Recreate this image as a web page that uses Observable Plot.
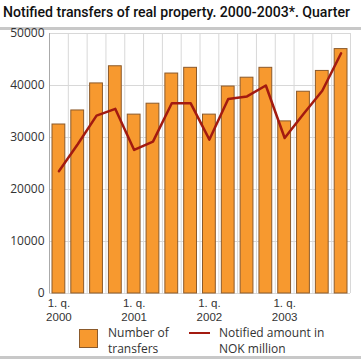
<!DOCTYPE html>
<html><head><meta charset="utf-8">
<script src="https://cdn.jsdelivr.net/npm/d3@7"></script>
<script src="https://cdn.jsdelivr.net/npm/@observablehq/plot@0.6"></script>
<style>
body{margin:0;background:#fff;font-family:"Open Sans",sans-serif;}
#wrap{position:relative;width:361px;height:359px;overflow:hidden;}
#title{position:absolute;left:3px;top:3px;font-family:Roboto,sans-serif;font-size:15px;font-weight:500;color:#111;white-space:nowrap;transform-origin:0 0;}
#topline{position:absolute;left:0;top:27px;width:361px;height:3px;background:#c8c8c8;}
#botline{position:absolute;left:0;top:356px;width:361px;height:3px;background:#c8c8c8;}
#chart{position:absolute;left:0;top:22px;}
.leg{position:absolute;font-size:12px;line-height:16px;color:#333;}
</style></head>
<body><div id="wrap">
<div id="topline"></div>
<div id="chart"></div>
<div id="title">Notified transfers of real property. 2000-2003*. Quarter</div>
<div style="position:absolute;left:79px;top:329px;width:17px;height:17px;background:#F7992F;border:1px solid #8B5A2B;"></div>
<div class="leg" style="left:108px;top:325px;">Number of<br>transfers</div>
<div style="position:absolute;left:189px;top:332px;width:21px;height:2px;background:#A31A10;"></div>
<div class="leg" style="left:219px;top:325px;">Notified amount in<br>NOK million</div>
<div id="botline"></div>
</div>
<script>
const quarters = ["2000K1","2000K2","2000K3","2000K4","2001K1","2001K2","2001K3","2001K4","2002K1","2002K2","2002K3","2002K4","2003K1","2003K2","2003K3","2003K4"];
const transfers = [32500,35200,40400,43700,34400,36500,42300,43400,34400,39800,41500,43400,33100,38800,42800,47000];
const amounts = [23500,28700,34200,35500,27600,29200,36600,36600,29600,37400,37900,40000,29900,34500,39000,46200];
const tickIndex = [0,4,8,12];
const tickQuarter = "1. q.";
const tickYears = ["2000","2001","2002","2003"];
const yTicks = [0,10000,20000,30000,40000,50000];

const rows = quarters.map((q,i)=>({q,i,transfers:transfers[i],amount:amounts[i]}));
const bounds = d3.range(quarters.length+1);
const ticks = tickIndex.map((i,k)=>({x:i+0.5,q:tickQuarter,year:tickYears[k]}));

const chart = Plot.plot({
  width:361, height:302,
  marginLeft:49, marginRight:11, marginTop:11, marginBottom:31,
  style:{fontFamily:"Open Sans, sans-serif", fontSize:"12px", color:"#333", background:"transparent", overflow:"visible"},
  x:{type:"linear", domain:[0,quarters.length], axis:null},
  y:{domain:[0,50000], ticks:yTicks, tickSize:0, tickPadding:5, label:null, tickFormat:d=>String(d)},
  marks:[
    Plot.ruleY(yTicks,{stroke:"#d8d8d8",strokeWidth:1}),
    Plot.ruleX(bounds,{stroke:"#d8d8d8",strokeWidth:1}),
    Plot.ruleX([0],{stroke:"#aaa"}),
    Plot.rectY(rows,{x1:d=>d.i,x2:d=>d.i+1,y:"transfers",insetLeft:3,insetRight:3,fill:"#F7992F",stroke:"#8B5A2B",strokeWidth:1}),
    Plot.line(rows,{x:d=>d.i+0.5,y:"amount",stroke:"#A31A10",strokeWidth:2.5}),
    Plot.text(ticks,{x:"x",y:0,text:"q",dy:10,fill:"#333",fontSize:11.5,fontFamily:"Liberation Sans, sans-serif"}),
    Plot.text(ticks,{x:"x",y:0,text:"year",dy:23.5,fill:"#333",fontSize:11.5,fontFamily:"Liberation Sans, sans-serif"})
  ]
});
document.getElementById("chart").appendChild(chart);
const t = document.getElementById("title");
const w = t.getBoundingClientRect().width;
t.style.transform = `scaleX(${347/w})`;
</script>
</body></html>
